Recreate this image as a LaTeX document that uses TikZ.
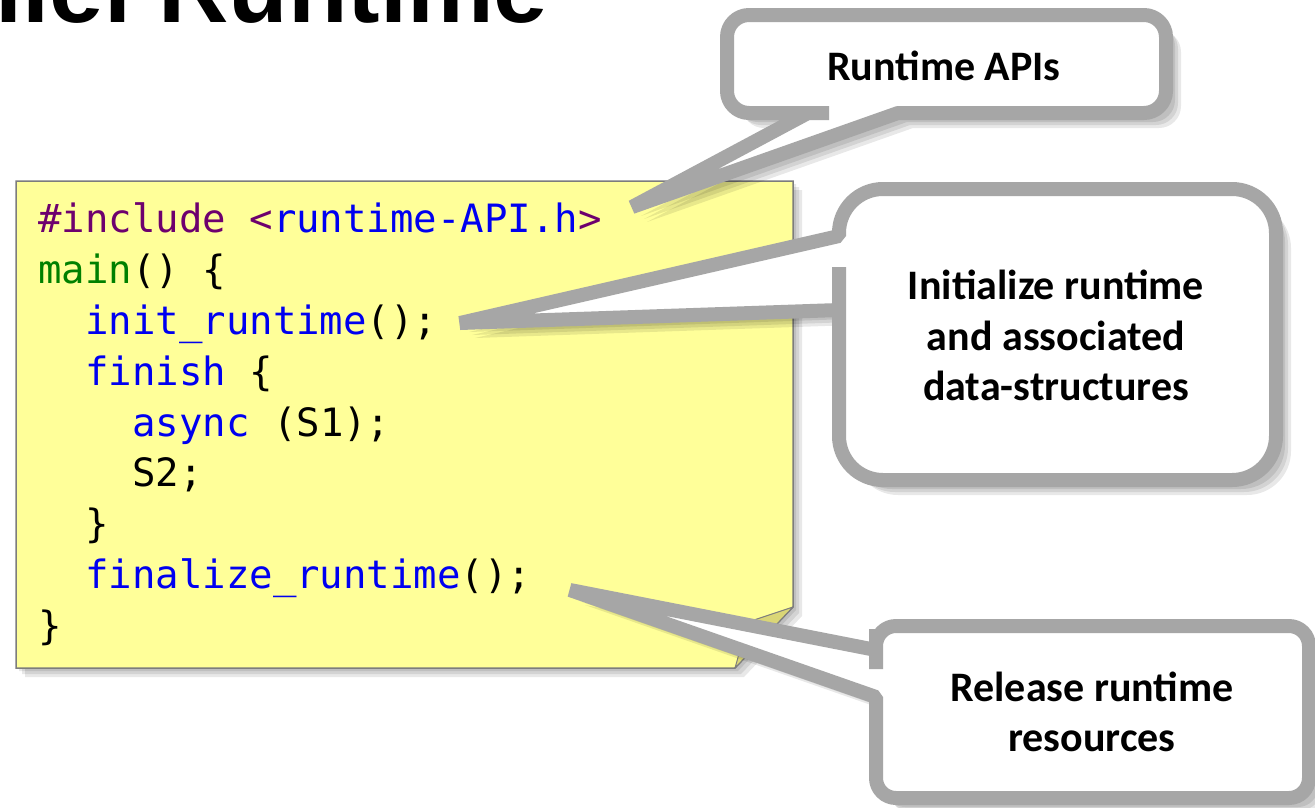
\documentclass[tikz,border=0pt]{standalone}
\usepackage{fontspec}
\setmainfont{Carlito}
\newfontfamily\titlefont{Liberation Sans}
\newfontfamily\codefont{DejaVu Sans Mono}
\newfontfamily\callfont{Carlito}
\definecolor{cpurple}{RGB}{110,0,110}
\definecolor{cblue}{RGB}{0,0,240}
\definecolor{cgreen}{RGB}{0,128,0}
\definecolor{noteyellow}{RGB}{255,255,153}
\definecolor{flapyellow}{RGB}{218,214,118}
\definecolor{callgray}{RGB}{166,166,166}
\definecolor{boxgray}{RGB}{125,125,125}
% paths (1 unit = 1 px, y downwards)
\newcommand\notepath{(16,181) -- (793,181) -- (793,607) -- (735,668) -- (16,668) -- cycle}
\newcommand\pathCA{(808,113) -- (632,207) -- (898,113) -- (899,113) [rounded corners=22pt] -- (1166,113) -- (1166,15) -- (727,15) -- (727,113) -- (807,113) [sharp corners] -- cycle}
\newcommand\pathCB{(839,310) -- (460,323) -- (839,236) -- (839,235) [rounded corners=44pt] -- (839,189) -- (1276,189) -- (1276,480) -- (839,480) -- (839,311) [sharp corners] -- cycle}
\newcommand\pathCC{(876,650) -- (570,590) -- (876,697) -- (876,698) [rounded corners=20pt] -- (876,798) -- (1309,798) -- (1309,626) -- (876,626) -- (876,649) [sharp corners] -- cycle}
\tikzset{
  codeline/.style={anchor=base west, inner sep=0pt, font=\codefont\fontsize{39}{51}\selectfont},
  calltext/.style={anchor=base, inner sep=0pt, font=\callfont\bfseries\fontsize{42}{50}\selectfont},
  callshape/.style={draw=callgray, fill=white, line width=14pt, line join=bevel},
  shadowfill/.style={fill=black, opacity=0.09},
}
\begin{document}
\begin{tikzpicture}[x=1pt, y=-1pt]
\useasboundingbox (0,0) rectangle (1315,807);
\clip (0,0) rectangle (1315,807);
\fill[white] (0,0) rectangle (1315,807);

% title (cut off at the top)
\node[anchor=base west, inner sep=0pt, font=\titlefont\bfseries\fontsize{97.5}{100}\selectfont] (title) at (-4.5,22) {iler\kern-11pt\ Runtime};

% note with code
\foreach \s in {3,6,9} { \path[shadowfill, shift={(\s,\s)}] \notepath; }
\path[fill=noteyellow, draw=boxgray, line width=1.5pt] \notepath;
\path[fill=flapyellow, draw=boxgray, line width=1pt, line join=round] (793,607) -- (748,622) -- (735,668) -- cycle;

\node[codeline] (l1) at (38,232) {\textcolor{cpurple}{\#include <}\textcolor{cblue}{runtime-API.h}\textcolor{cpurple}{>}};
\node[codeline] (l2) at (38,283) {\textcolor{cgreen}{main}() \{};
\node[codeline] (l3) at (85,334) {\textcolor{cblue}{init\_runtime}();};
\node[codeline] (l4) at (85,385) {\textcolor{cblue}{finish} \{};
\node[codeline] (l5) at (132,436) {\textcolor{cblue}{async} (S1);};
\node[codeline] (l6) at (132,486) {S2;};
\node[codeline] (l7) at (85,537) {\}};
\node[codeline] (l8) at (85,588) {\textcolor{cblue}{finalize\_runtime}();};
\node[codeline] (l9) at (38,639) {\}};

% callout shadows
\foreach \s in {9,12,15} {
  \path[shadowfill, shift={(\s,\s)}] \pathCA;
  \path[shadowfill, shift={(\s,\s)}] \pathCB;
  \path[shadowfill, shift={(\s,\s)}] \pathCC;
}
% callouts
\path[callshape] \pathCA;
\path[callshape] \pathCB;
\path[callshape] \pathCC;

\node[calltext] (apis) at (944,80) {Runtime APIs};
\node[calltext] (init1) at (1056,299) {Initialize runtime};
\node[calltext] (init2) at (1056,350) {and associated};
\node[calltext] (init3) at (1056,400) {data-structures};
\node[calltext] (rel1) at (1092,701) {Release runtime};
\node[calltext] (rel2) at (1092,751) {resources};
\end{tikzpicture}
\end{document}
